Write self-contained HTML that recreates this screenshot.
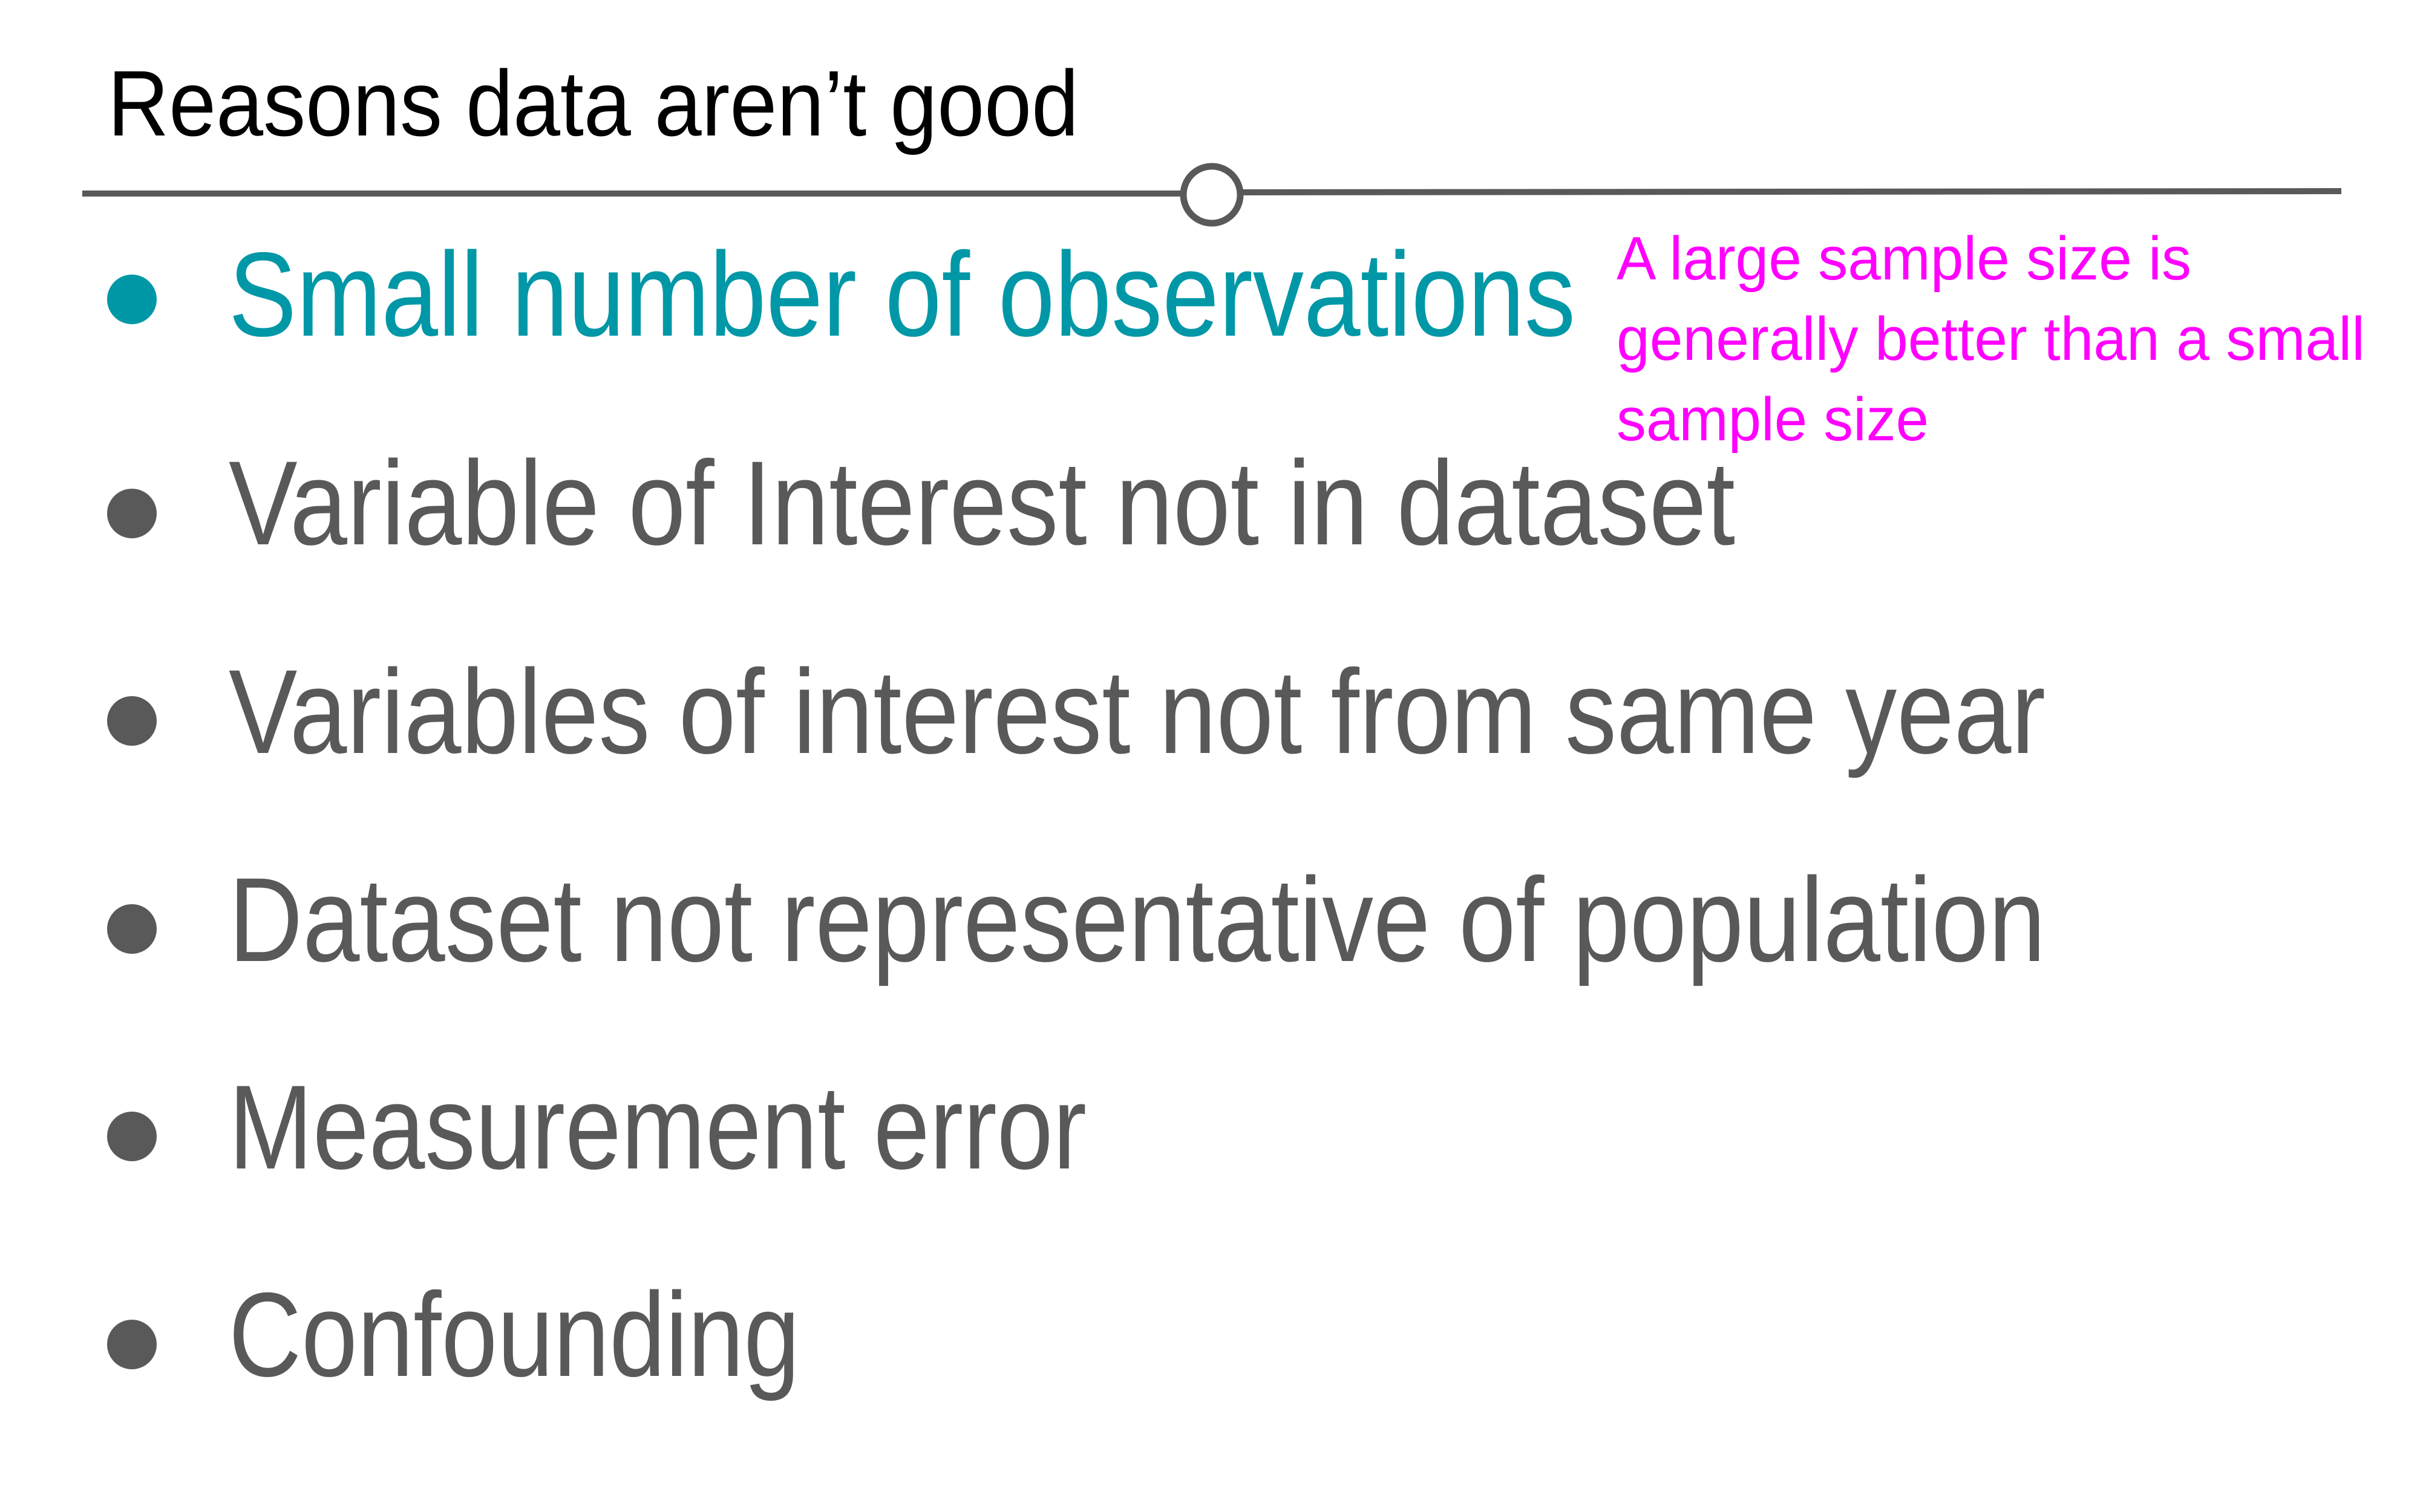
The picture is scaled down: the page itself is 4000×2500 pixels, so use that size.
<!DOCTYPE html>
<html><head><meta charset="utf-8"><style>
html,body{margin:0;padding:0;background:#fff;}
svg{display:block;}
text{font-family:"Liberation Sans Narrow","Liberation Sans",sans-serif;}
</style></head><body>
<svg width="4000" height="2500" viewBox="0 0 4000 2500">
<rect x="0" y="0" width="4000" height="2500" fill="#ffffff"/>
<text x="178" y="224" font-size="154" fill="#000" textLength="1605" lengthAdjust="spacingAndGlyphs">Reasons data aren’t good</text>
<line x1="136" y1="320" x2="1953" y2="320" stroke="#595959" stroke-width="10"/>
<line x1="2053" y1="318" x2="3870" y2="316" stroke="#595959" stroke-width="10"/>
<circle cx="2003" cy="322" r="47" fill="#fff" stroke="#595959" stroke-width="11"/>

<circle cx="218" cy="495" r="41" fill="#0097A7"/>
<text x="378" y="555" font-size="198" fill="#0097A7" textLength="2226" lengthAdjust="spacingAndGlyphs">Small number of observations</text>

<circle cx="218" cy="849" r="41" fill="#595959"/>
<text x="378" y="900" font-size="198" fill="#595959" textLength="2490" lengthAdjust="spacingAndGlyphs">Variable of Interest not in dataset</text>

<circle cx="218" cy="1192" r="41" fill="#595959"/>
<text x="378" y="1245" font-size="198" fill="#595959" textLength="3003" lengthAdjust="spacingAndGlyphs">Variables of interest not from same year</text>

<circle cx="218" cy="1536" r="41" fill="#595959"/>
<text x="378" y="1589" font-size="198" fill="#595959" textLength="3003" lengthAdjust="spacingAndGlyphs">Dataset not representative of population</text>

<circle cx="218" cy="1879" r="41" fill="#595959"/>
<text x="378" y="1932" font-size="198" fill="#595959" textLength="1418" lengthAdjust="spacingAndGlyphs">Measurement error</text>

<circle cx="218" cy="2223" r="41" fill="#595959"/>
<text x="378" y="2275" font-size="198" fill="#595959" textLength="944" lengthAdjust="spacingAndGlyphs">Confounding</text>

<g fill="#FF00FF" font-size="101">
<text x="2672" y="462" textLength="950" lengthAdjust="spacingAndGlyphs">A large sample size is</text>
<text x="2672" y="595" textLength="1237" lengthAdjust="spacingAndGlyphs">generally better than a small</text>
<text x="2672" y="728" textLength="516" lengthAdjust="spacingAndGlyphs">sample size</text>
</g>
</svg>
</body></html>
